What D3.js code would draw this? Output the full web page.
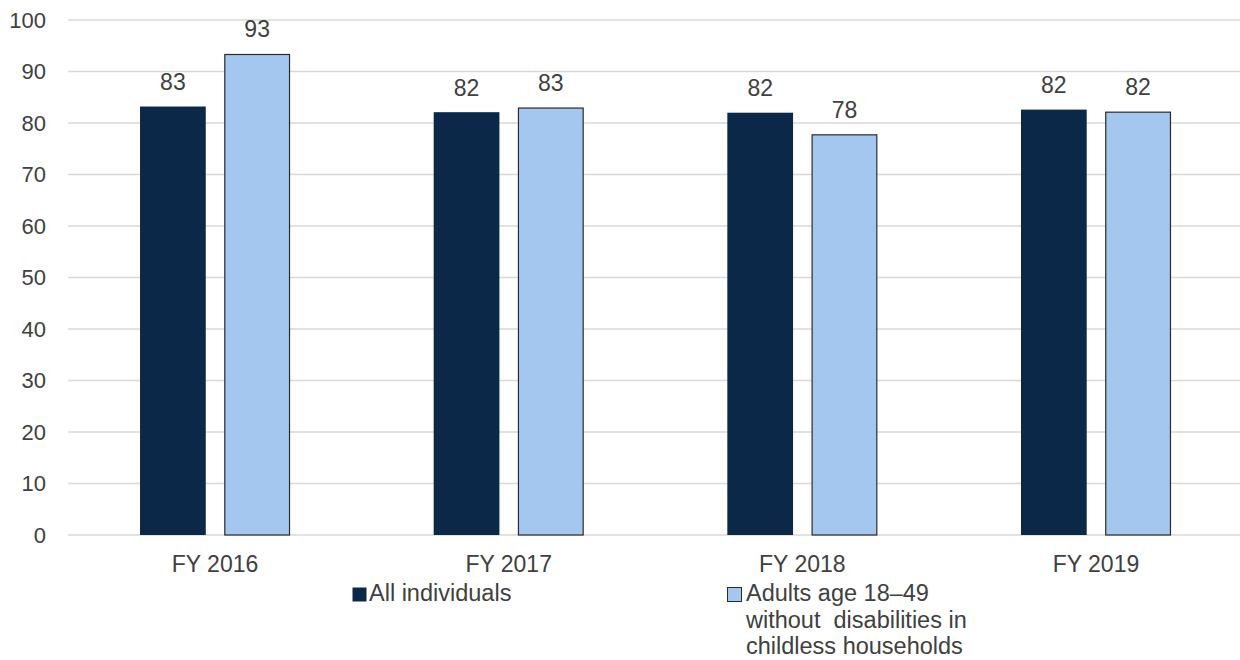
<!DOCTYPE html>
<html>
<head>
<meta charset="utf-8">
<script src="https://cdn.jsdelivr.net/npm/d3@7"></script>
<style>
  html, body { margin: 0; padding: 0; background: #ffffff; }
  svg { display: block; font-family: "Liberation Sans", Arial, sans-serif; }
</style>
</head>
<body>
<svg id="chart" width="1240" height="660"></svg>
<script>
const categories = ["FY 2016", "FY 2017", "FY 2018", "FY 2019"];
const seriesNames = ["All individuals", "Adults age 18\u201349 without disabilities in childless households"];
const allIndividuals = [83.2, 82.1, 82.0, 82.6];
const adultsNoDisab = [93.4, 83.0, 77.8, 82.2];
const dataLabelsAll = ["83", "82", "82", "82"];
const dataLabelsAdults = ["93", "83", "78", "82"];
const yTicks = [0, 10, 20, 30, 40, 50, 60, 70, 80, 90, 100];
const legendLines = [["All individuals"], ["Adults age 18\u201349", "without  disabilities in", "childless households"]];

const colors = ["#0c2848", "#a3c7ef"];
const textColor = "#404040";

const svg = d3.select("#chart");
const plot = { left: 68.2, right: 1242.8, top: 20, bottom: 535 };

const x0 = d3.scaleBand().domain(categories).range([plot.left, plot.right]).padding(0);
const x1 = d3.scaleBand().domain([0, 1]).range([-75, 75]).paddingInner(0.22);
const y = d3.scaleLinear().domain([0, 100]).range([plot.bottom, plot.top]);

// gridlines
svg.append("g").selectAll("line").data(yTicks).join("line")
  .attr("x1", plot.left).attr("x2", plot.right)
  .attr("y1", d => y(d)).attr("y2", d => y(d))
  .attr("stroke", "#d9d9d9").attr("stroke-width", 1.5);

// y axis labels
const yAxis = d3.axisLeft(y).tickValues(yTicks).tickSize(0).tickPadding(0);
const gy = svg.append("g").attr("transform", "translate(46,0)").call(yAxis);
gy.select(".domain").remove();
gy.selectAll("text").attr("font-size", 22).attr("fill", textColor)
  .attr("font-family", "'Liberation Sans', Arial, sans-serif");

// x axis labels
const xAxis = d3.axisBottom(x0).tickSize(0).tickPadding(0);
const gx = svg.append("g").attr("transform", `translate(0,${plot.bottom})`).call(xAxis);
gx.select(".domain").remove();
gx.selectAll("text").attr("font-size", 23).attr("fill", textColor)
  .attr("font-family", "'Liberation Sans', Arial, sans-serif")
  .attr("dy", null).attr("y", 36.5);

const rows = categories.map((c, i) => ({
  c, vals: [allIndividuals[i], adultsNoDisab[i]], labels: [dataLabelsAll[i], dataLabelsAdults[i]]
}));

const groups = svg.append("g").selectAll("g").data(rows).join("g")
  .attr("transform", d => `translate(${x0(d.c) + x0.bandwidth() / 2},0)`);

groups.selectAll("rect").data(d => d.vals.map((v, k) => ({ v, k }))).join("rect")
  .attr("x", d => x1(d.k) + (d.k === 1 ? 0.5 : 0))
  .attr("y", d => y(d.v) + (d.k === 1 ? 0.5 : 0))
  .attr("width", d => x1.bandwidth() - (d.k === 1 ? 1 : 0))
  .attr("height", d => y(0) - y(d.v) - (d.k === 1 ? 0.5 : 0))
  .attr("fill", d => colors[d.k])
  .attr("stroke", d => d.k === 1 ? "#2b2b2b" : "none")
  .attr("stroke-width", 1.2);

groups.selectAll("text.lbl").data(d => d.vals.map((v, k) => ({ v, k, t: d.labels[k] }))).join("text")
  .attr("class", "lbl")
  .attr("x", d => x1(d.k) + x1.bandwidth() / 2)
  .attr("y", d => y(d.v) - 16.5)
  .attr("text-anchor", "middle")
  .attr("font-size", 23).attr("fill", textColor)
  .text(d => d.t);

// legend
const legendPos = [{ sx: 352, tx: 369 }, { sx: 727, tx: 746 }];
const lg = svg.append("g").selectAll("g").data(seriesNames).join("g");
lg.append("rect")
  .attr("x", (d, i) => legendPos[i].sx + 0.5).attr("y", 587.5)
  .attr("width", 14).attr("height", 14)
  .attr("fill", (d, i) => colors[i])
  .attr("stroke", (d, i) => i === 1 ? "#2b2b2b" : "none").attr("stroke-width", 1);
lg.each(function (d, i) {
  const t = d3.select(this).append("text")
    .attr("x", legendPos[i].tx).attr("y", 601)
    .attr("font-size", 23.5).attr("fill", textColor);
  legendLines[i].forEach((ln, j) => {
    t.append("tspan").attr("x", legendPos[i].tx).attr("y", 601 + j * 26.5)
      .attr("xml:space", "preserve").text(ln);
  });
});
</script>
</body>
</html>
